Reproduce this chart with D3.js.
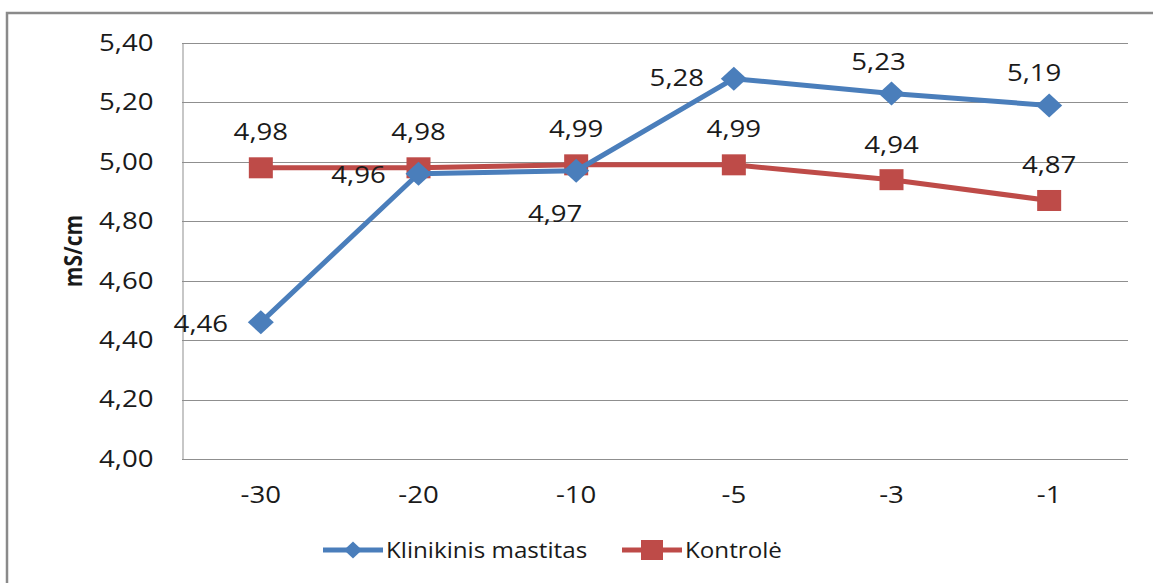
<!DOCTYPE html>
<html>
<head>
<meta charset="utf-8">
<script src="https://cdn.jsdelivr.net/npm/d3@7"></script>
<style>
  html, body { margin: 0; padding: 0; background: #fff; }
  svg { display: block; }
  text { font-family: "Open Sans", "DejaVu Sans", sans-serif; fill: #1a1a1a; }
</style>
</head>
<body>
<script>
// Days before diagnosis
const categories = ["-30", "-20", "-10", "-5", "-3", "-1"];
// Milk electrical conductivity, mS/cm
const mastitas = [4.46, 4.96, 4.97, 5.28, 5.23, 5.19];
const kontrole = [4.98, 4.98, 4.99, 4.99, 4.94, 4.87];
const yTicks = [4.0, 4.2, 4.4, 4.6, 4.8, 5.0, 5.2, 5.4];
const seriesNames = ["Klinikinis mastitas", "Kontrolė"];

// Label placement relative to each point (dx, dy of text centre)
const mastitasLabelPos = [[-60, 2], [-60, 1], [-21, 43], [-57, -1], [-13, -32], [-15, -32]];
const kontroleLabelPos = [[0, -36], [0, -36], [0, -36], [0, -36], [0, -35], [0, -35]];

const W = 1153, H = 583;
const margin = { left: 182, right: 25, top: 43, bottom: 124 };
const stretch = 1.2;
const fmt = v => v.toFixed(2).replace(".", ",");

const svg = d3.select("body").append("svg").attr("width", W).attr("height", H);

// outer frame
svg.append("rect")
  .attr("x", 7).attr("y", 13).attr("width", 1300).attr("height", 800)
  .attr("fill", "none").attr("stroke", "#8a8a8a").attr("stroke-width", 2.5);

const x = d3.scaleBand().domain(categories)
  .range([margin.left, W - margin.right]);
const y = d3.scaleLinear().domain([4.0, 5.4])
  .range([H - margin.bottom, margin.top]);

// gridlines
svg.append("g")
  .selectAll("line").data(yTicks).join("line")
  .attr("x1", margin.left).attr("x2", W - margin.right)
  .attr("y1", d => Math.round(y(d)) + 0.5).attr("y2", d => Math.round(y(d)) + 0.5)
  .attr("stroke", "#8f8f8f").attr("stroke-width", 1);

// y axis
const yAxis = svg.append("g")
  .attr("transform", `translate(${margin.left + 0.5},0)`)
  .call(d3.axisLeft(y).tickValues(yTicks).tickFormat(fmt).tickSize(0).tickPadding(0));
yAxis.select(".domain").attr("stroke", "#8f8f8f");
yAxis.selectAll("text")
  .attr("x", -29 / stretch)
  .attr("transform", `scale(${stretch},1)`)
  .style("font-size", "23px").attr("fill", "#1a1a1a")
  .style("font-family", "'Open Sans', sans-serif");

// x axis
const xAxis = svg.append("g")
  .attr("transform", `translate(0,${H - margin.bottom})`)
  .call(d3.axisBottom(x).tickSize(0).tickPadding(0));
xAxis.select(".domain").remove();
xAxis.selectAll("text")
  .attr("dy", 0).attr("y", 44)
  .attr("transform", `scale(${stretch},1)`)
  .style("font-size", "23px").attr("fill", "#1a1a1a")
  .style("font-family", "'Open Sans', sans-serif");

// y axis title
svg.append("text")
  .attr("transform", `translate(82,${(margin.top + H - margin.bottom) / 2}) scale(${stretch},1) rotate(-90)`)
  .attr("text-anchor", "middle")
  .style("font-size", "21px").style("font-weight", "bold")
  .text("mS/cm");

const cx = (d, i) => x(categories[i]) + x.bandwidth() / 2;
const line = d3.line().x((d, i) => cx(d, i)).y(d => y(d));

const blue = "#4a7ebb", red = "#be4b48";
const diamondPath = (w, h) => `M0,${-h / 2}L${w / 2},0L0,${h / 2}L${-w / 2},0Z`;

function drawSeries(values, color, marker) {
  svg.append("path").datum(values)
    .attr("d", line).attr("fill", "none")
    .attr("stroke", color).attr("stroke-width", 5).attr("stroke-linejoin", "round");
  const g = svg.append("g");
  values.forEach((v, i) => {
    const px = cx(v, i), py = y(v);
    if (marker === "diamond") {
      g.append("path")
        .attr("d", diamondPath(26, 24))
        .attr("transform", `translate(${px},${py})`)
        .attr("fill", color);
    } else {
      g.append("rect")
        .attr("x", px - 12).attr("y", py - 10.5).attr("width", 24).attr("height", 21)
        .attr("fill", color);
    }
  });
}

drawSeries(kontrole, red, "square");
drawSeries(mastitas, blue, "diamond");

function drawLabels(values, pos) {
  svg.append("g").selectAll("text").data(values).join("text")
    .attr("transform", (d, i) =>
      `translate(${cx(d, i) + pos[i][0]},${y(d) + pos[i][1] + 8}) scale(${stretch},1)`)
    .attr("text-anchor", "middle")
    .style("font-size", "23px")
    .text(d => fmt(d));
}
drawLabels(kontrole, kontroleLabelPos);
drawLabels(mastitas, mastitasLabelPos);

// legend
const legend = svg.append("g").attr("transform", "translate(0,550)");
const items = [
  { name: seriesNames[0], color: blue, marker: "diamond", x0: 323 },
  { name: seriesNames[1], color: red, marker: "square", x0: 622 }
];
items.forEach(it => {
  legend.append("line")
    .attr("x1", it.x0).attr("x2", it.x0 + 60).attr("y1", 0).attr("y2", 0)
    .attr("stroke", it.color).attr("stroke-width", 5);
  if (it.marker === "diamond") {
    legend.append("path")
      .attr("d", diamondPath(18, 17))
      .attr("transform", `translate(${it.x0 + 30},0)`)
      .attr("fill", it.color);
  } else {
    legend.append("rect")
      .attr("x", it.x0 + 19).attr("y", -10).attr("width", 22).attr("height", 20)
      .attr("fill", it.color);
  }
  legend.append("text")
    .attr("transform", `translate(${it.x0 + 63},8) scale(1.1,1)`)
    .style("font-size", "22px")
    .text(it.name);
});
</script>
</body>
</html>
